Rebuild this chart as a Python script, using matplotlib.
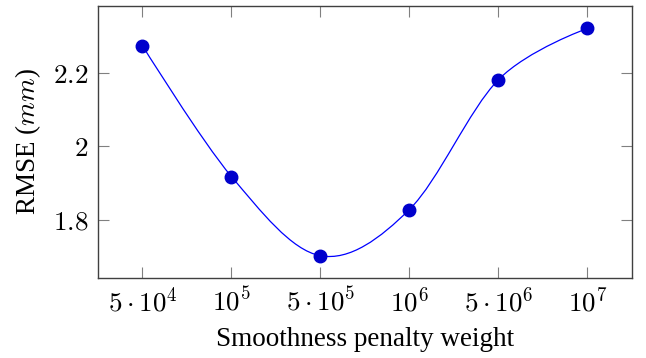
import numpy as np
import matplotlib
matplotlib.use("Agg")
import matplotlib.pyplot as plt
from matplotlib.path import Path
from matplotlib.patches import PathPatch

plt.rcParams['font.family'] = ['Liberation Serif', 'DejaVu Serif']
plt.rcParams['mathtext.fontset'] = 'cm'

# --- Data ---
weights = [r'$5\cdot10^4$', r'$10^5$', r'$5\cdot10^5$', r'$10^6$', r'$5\cdot10^6$', r'$10^7$']
rmse = [2.275, 1.918, 1.702, 1.828, 2.182, 2.322]
yticks = [1.8, 2.0, 2.2]
ytick_labels = [r'$1.8$', r'$2$', r'$2.2$']

x = np.arange(len(weights), dtype=float)
y = np.array(rmse)

fig = plt.figure(figsize=(6.46, 3.58), dpi=100)
ax = fig.add_axes([0.1517, 0.2243, 0.8263, 0.7597])

# smooth curve like tikz "smooth" (cubic bezier through points)
tension = 0.165
verts = [(x[0], y[0])]
codes = [Path.MOVETO]
n = len(x)
for i in range(n - 1):
    if i == 0:
        c1 = (x[0], y[0])
    else:
        c1 = (x[i] + tension * (x[i + 1] - x[i - 1]), y[i] + tension * (y[i + 1] - y[i - 1]))
    if i + 1 == n - 1:
        c2 = (x[i + 1], y[i + 1])
    else:
        c2 = (x[i + 1] - tension * (x[i + 2] - x[i]), y[i + 1] - tension * (y[i + 2] - y[i]))
    verts += [c1, c2, (x[i + 1], y[i + 1])]
    codes += [Path.CURVE4, Path.CURVE4, Path.CURVE4]
ax.add_patch(PathPatch(Path(verts, codes), facecolor='none', edgecolor='#0000ff', lw=0.9))
ax.plot(x, y, linestyle='none', marker='o', markersize=9, color='#0000cc')

ax.set_xlim(-0.5, 5.5)
ax.set_ylim(1.642, 2.384)
ax.set_xticks(x)
ax.set_xticklabels(weights)
ax.set_yticks(yticks)
ax.set_yticklabels(ytick_labels)
ax.tick_params(direction='in', length=8, width=0.8, color='#808080', top=True, right=True,
               labelsize=19.5, pad=7)
for s in ax.spines.values():
    s.set_color('#404040')
    s.set_linewidth(1.0)

ax.set_xlabel('Smoothness penalty weight', fontsize=19.5, labelpad=7)
ax.set_ylabel(r'RMSE ($mm$)', fontsize=19.5, labelpad=7)

fig.savefig('out.png', dpi=100)
